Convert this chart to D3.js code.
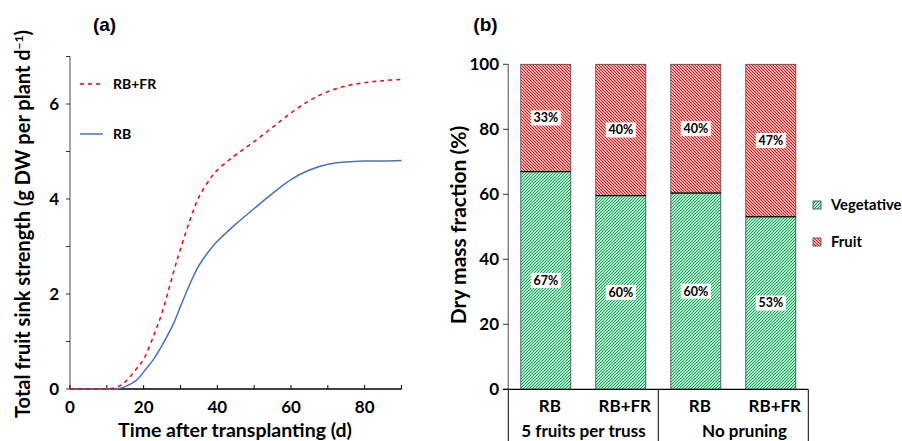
<!DOCTYPE html>
<html>
<head>
<meta charset="utf-8">
<script src="https://cdn.jsdelivr.net/npm/d3@7"></script>
<style>
  body { margin: 0; background: #fff; }
  svg { display: block; }
  text { font-family: Lato, "Open Sans", sans-serif; font-weight: bold; fill: #000; }
</style>
</head>
<body>
<svg id="chart" width="902" height="441"></svg>
<script>
// panel (a): fruit sink strength over time
var days = [0, 5, 10, 13, 15, 18, 20, 23, 25, 28, 30, 33, 35, 38, 40, 43, 45, 50, 55, 60, 65, 70, 75, 80, 85, 90];
var rbFr = [0, 0, 0, 0.05, 0.15, 0.42, 0.63, 1.18, 1.61, 2.43, 2.95, 3.65, 4.04, 4.42, 4.61, 4.81, 4.93, 5.21, 5.51, 5.81, 6.07, 6.26, 6.38, 6.45, 6.49, 6.52];
var rb   = [0, 0, 0, 0.005, 0.05, 0.18, 0.36, 0.66, 0.92, 1.36, 1.74, 2.29, 2.60, 2.93, 3.11, 3.33, 3.47, 3.80, 4.12, 4.41, 4.61, 4.73, 4.78, 4.80, 4.80, 4.81];
var xTicksA = [0, 20, 40, 60, 80];
var yTicksA = [0, 2, 4, 6];

// panel (b): dry mass fractions
var treatments = ["RB", "RB+FR", "RB", "RB+FR"];
var groups = ["5 fruits per truss", "No pruning"];
var vegetative = [67, 59.6, 60.4, 53.1];
var fruit = [33, 40.4, 39.6, 46.9];
var yTicksB = [0, 20, 40, 60, 80, 100];

var svg = d3.select("#chart");

// hatch patterns, 3px tiles with one diagonal
var defs = svg.append("defs");
function hatch(id, color, rising) {
	var p = defs.append("pattern")
		.attr("id", id)
		.attr("patternUnits", "userSpaceOnUse")
		.attr("width", 3)
		.attr("height", 3);
	p.append("rect").attr("width", 3).attr("height", 3).attr("fill", "#fff");
	var d = rising ? "M-1,1 L1,-1 M0,3 L3,0 M2,4 L4,2" : "M-1,2 L1,4 M0,0 L3,3 M2,-1 L4,1";
	p.append("path")
		.attr("d", d)
		.attr("stroke", color)
		.attr("stroke-width", 1.1);
}
hatch("hatchGreen", "#00a94f", true);
hatch("hatchRed", "#ff0000", false);

// ---------- panel (a) ----------
var xA = d3.scaleLinear().domain([0, 90]).range([70, 401.5]);
var yA = d3.scaleLinear().domain([0, 7]).range([389, 56.5]);

var gA = svg.append("g");

gA.append("text")
	.attr("x", 104.5).attr("y", 31)
	.attr("text-anchor", "middle")
	.style("font-family", "'Liberation Sans', Arial, sans-serif")
	.style("font-size", "19px")
	.text("(a)");

// y axis (gray line, ticks at every unit, labels on even values)
gA.append("line")
	.attr("x1", xA(0)).attr("x2", xA(0))
	.attr("y1", yA(0)).attr("y2", yA(7))
	.attr("stroke", "#7f7f7f").attr("stroke-width", 1.4);
gA.selectAll(".ytickA")
	.data(d3.range(0, 8))
	.enter()
	.append("line")
	.attr("x1", xA(0) - 4).attr("x2", xA(0))
	.attr("y1", function(d) { return yA(d); })
	.attr("y2", function(d) { return yA(d); })
	.attr("stroke", "#333").attr("stroke-width", 1);
gA.selectAll(".ylabA")
	.data(yTicksA)
	.enter()
	.append("text")
	.attr("x", 59)
	.attr("y", function(d) { return yA(d); })
	.attr("dy", "0.35em")
	.attr("text-anchor", "end")
	.style("font-size", "17px")
	.text(function(d) { return d; });

// x axis (black line, inward ticks every 10)
gA.append("line")
	.attr("x1", xA(0)).attr("x2", xA(90))
	.attr("y1", yA(0)).attr("y2", yA(0))
	.attr("stroke", "#000").attr("stroke-width", 1.3);
gA.selectAll(".xtickA")
	.data(d3.range(0, 100, 10))
	.enter()
	.append("line")
	.attr("x1", function(d) { return xA(d); })
	.attr("x2", function(d) { return xA(d); })
	.attr("y1", yA(0)).attr("y2", yA(0) - 4)
	.attr("stroke", "#000").attr("stroke-width", 1);
gA.selectAll(".xlabA")
	.data(xTicksA)
	.enter()
	.append("text")
	.attr("x", function(d) { return xA(d); })
	.attr("y", 413)
	.attr("text-anchor", "middle")
	.style("font-size", "17px")
	.text(function(d) { return d; });

gA.append("text")
	.attr("x", 235).attr("y", 437)
	.attr("text-anchor", "middle")
	.style("font-size", "19.5px")
	.text("Time after transplanting (d)");

var yTitle = gA.append("text")
	.attr("transform", "translate(30,224) rotate(-90)")
	.attr("text-anchor", "middle")
	.style("font-size", "20px");
yTitle.append("tspan").text("Total fruit sink strength (g DW per plant d");
yTitle.append("tspan").attr("baseline-shift", "super").style("font-size", "12px").text("\u22121");
yTitle.append("tspan").text(")");

var line = d3.line()
	.x(function(d, i) { return xA(days[i]); })
	.y(function(d) { return yA(d); })
	.curve(d3.curveCatmullRom.alpha(0.5));

gA.append("path")
	.datum(rb)
	.attr("d", line)
	.attr("fill", "none")
	.attr("stroke", "#4472c4")
	.attr("stroke-width", 1.5);
gA.append("path")
	.datum(rbFr)
	.attr("d", line)
	.attr("fill", "none")
	.attr("stroke", "#ff0000")
	.attr("stroke-width", 1.5)
	.attr("stroke-dasharray", "4,4");

// legend (a)
var legA = [
	{ name: "RB+FR", color: "#ff0000", dash: "4,4", y: 84 },
	{ name: "RB", color: "#4472c4", dash: null, y: 134 }
];
legA.forEach(function(d) {
	gA.append("line")
		.attr("x1", 80).attr("x2", 103)
		.attr("y1", d.y).attr("y2", d.y)
		.attr("stroke", d.color).attr("stroke-width", 1.5)
		.attr("stroke-dasharray", d.dash);
	gA.append("text")
		.attr("x", 113).attr("y", d.y)
		.attr("dy", "0.35em")
		.style("font-size", "14px")
		.text(d.name);
});

// ---------- panel (b) ----------
var xB = d3.scaleBand()
	.domain(d3.range(treatments.length))
	.range([508.3, 808.3])
	.paddingInner(1 / 3)
	.paddingOuter(1 / 6);
var yB = d3.scaleLinear().domain([0, 100]).range([389.3, 64.3]);

var gB = svg.append("g");

gB.append("text")
	.attr("x", 485.5).attr("y", 31)
	.attr("text-anchor", "middle")
	.style("font-family", "'Liberation Sans', Arial, sans-serif")
	.style("font-size", "19px")
	.text("(b)");

gB.append("line")
	.attr("x1", 508.3).attr("x2", 508.3)
	.attr("y1", yB(0)).attr("y2", yB(100))
	.attr("stroke", "#7f7f7f").attr("stroke-width", 1.4);
gB.selectAll(".ytickB")
	.data(yTicksB)
	.enter()
	.append("line")
	.attr("x1", 503).attr("x2", 508.3)
	.attr("y1", function(d) { return yB(d); })
	.attr("y2", function(d) { return yB(d); })
	.attr("stroke", "#333").attr("stroke-width", 1);
gB.selectAll(".ylabB")
	.data(yTicksB)
	.enter()
	.append("text")
	.attr("x", 499)
	.attr("y", function(d) { return yB(d); })
	.attr("dy", "0.35em")
	.attr("text-anchor", "end")
	.style("font-size", "17px")
	.text(function(d) { return d; });

gB.append("text")
	.attr("transform", "translate(466,225) rotate(-90)")
	.attr("text-anchor", "middle")
	.style("font-size", "21px")
	.text("Dry mass fraction (%)");

// bars
var bars = gB.selectAll(".bar")
	.data(d3.range(treatments.length))
	.enter()
	.append("g");
bars.append("rect")
	.attr("x", function(i) { return xB(i); })
	.attr("width", xB.bandwidth())
	.attr("y", function(i) { return yB(vegetative[i]); })
	.attr("height", function(i) { return yB(0) - yB(vegetative[i]); })
	.attr("fill", "url(#hatchGreen)")
	.attr("stroke", "#404040").attr("stroke-width", 0.8);
bars.append("rect")
	.attr("x", function(i) { return xB(i); })
	.attr("width", xB.bandwidth())
	.attr("y", function(i) { return yB(vegetative[i] + fruit[i]); })
	.attr("height", function(i) { return yB(vegetative[i]) - yB(vegetative[i] + fruit[i]); })
	.attr("fill", "url(#hatchRed)")
	.attr("stroke", "#404040").attr("stroke-width", 0.8);
bars.append("line")
	.attr("x1", function(i) { return xB(i); })
	.attr("x2", function(i) { return xB(i) + xB.bandwidth(); })
	.attr("y1", function(i) { return yB(vegetative[i]); })
	.attr("y2", function(i) { return yB(vegetative[i]); })
	.attr("stroke", "#000").attr("stroke-width", 1.2);

// value labels with white boxes
function valueLabel(sel, yVal, txt) {
	sel.append("rect")
		.attr("x", function(i) { return xB(i) + xB.bandwidth() / 2 - 15; })
		.attr("y", function(i) { return yB(yVal(i)) - 7.5; })
		.attr("width", 30).attr("height", 15)
		.attr("fill", "#fff");
	sel.append("text")
		.attr("x", function(i) { return xB(i) + xB.bandwidth() / 2; })
		.attr("y", function(i) { return yB(yVal(i)); })
		.attr("dy", "0.35em")
		.attr("text-anchor", "middle")
		.style("font-size", "12.5px")
		.text(txt);
}
valueLabel(bars, function(i) { return vegetative[i] / 2; }, function(i) { return Math.round(vegetative[i]) + "%"; });
valueLabel(bars, function(i) { return vegetative[i] + fruit[i] / 2; }, function(i) { return Math.round(fruit[i]) + "%"; });

// x axis with grouped categories
gB.append("line")
	.attr("x1", 503).attr("x2", 808.3)
	.attr("y1", yB(0)).attr("y2", yB(0))
	.attr("stroke", "#000").attr("stroke-width", 1.2);
gB.selectAll(".sep")
	.data([508.3, 658.3, 808.3])
	.enter()
	.append("line")
	.attr("x1", function(d) { return d; })
	.attr("x2", function(d) { return d; })
	.attr("y1", yB(0)).attr("y2", 441)
	.attr("stroke", "#000").attr("stroke-width", 1);
gB.selectAll(".catlab")
	.data(d3.range(treatments.length))
	.enter()
	.append("text")
	.attr("x", function(i) { return xB(i) + xB.bandwidth() / 2 + 4; })
	.attr("y", 412)
	.attr("text-anchor", "middle")
	.style("font-size", "17px")
	.text(function(i) { return treatments[i]; });
gB.selectAll(".grplab")
	.data(groups)
	.enter()
	.append("text")
	.attr("x", function(d, i) { return 583.5 + i * 150 + (i ? 11 : 0); })
	.attr("y", 437)
	.attr("text-anchor", "middle")
	.style("font-size", "17px")
	.text(function(d) { return d; });

// legend (b)
var legB = [
	{ name: "Vegetative", fill: "url(#hatchGreen)", y: 205 },
	{ name: "Fruit", fill: "url(#hatchRed)", y: 242 }
];
legB.forEach(function(d) {
	gB.append("rect")
		.attr("x", 813).attr("y", d.y - 4)
		.attr("width", 8).attr("height", 8)
		.attr("fill", d.fill)
		.attr("stroke", "#404040").attr("stroke-width", 0.8);
	gB.append("text")
		.attr("x", 831).attr("y", d.y)
		.attr("dy", "0.35em")
		.style("font-size", "14.8px")
		.text(d.name);
});
</script>
</body>
</html>
